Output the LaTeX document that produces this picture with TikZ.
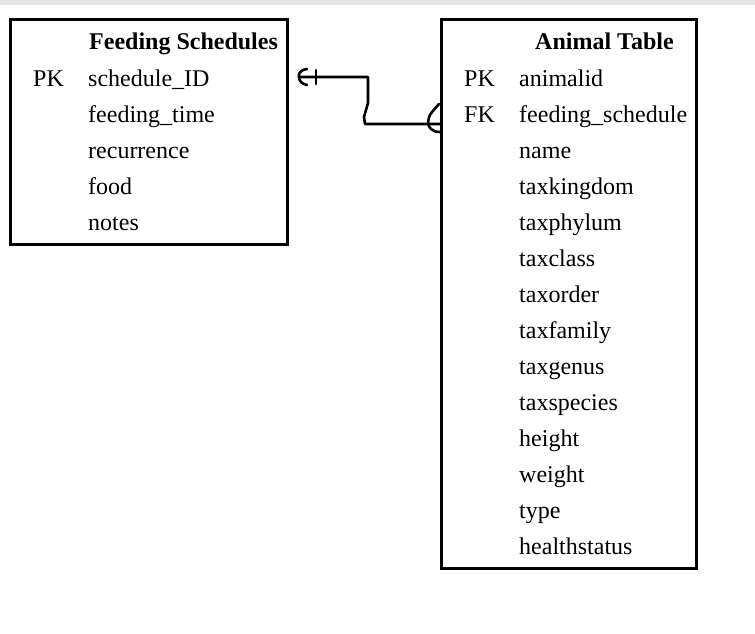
\documentclass[tikz,border=0pt]{standalone}
\usepackage{fontspec}
\setmainfont{Liberation Serif}
\begin{document}
\begin{tikzpicture}[x=1pt,y=-1pt,
  tbl/.style={draw=black,line width=3pt,rectangle,inner sep=0pt,outer sep=0pt,anchor=north west},
  txt/.style={anchor=base west,inner sep=0pt,font=\fontsize{24}{28}\selectfont},
  ttl/.style={txt,font=\fontsize{24}{28}\selectfont\bfseries},
  conn/.style={line width=2.6pt,line cap=round,line join=round}]
\useasboundingbox (0,0) rectangle (755,634);
\fill[fill={rgb,255:red,229;green,229;blue,229}] (0,0) rectangle (755,5);
% tables
\node[tbl,minimum width=277pt,minimum height=225pt] (fs) at (10.5,19.5) {};
\node[tbl,minimum width=255pt,minimum height=549pt] (an) at (441.5,19.5) {};
% Feeding Schedules
\node[ttl] (fsT) at (89,50) {Feeding Schedules};
\node[txt] (fsPK) at (33,86) {PK};
\node[txt] (fs1) at (88,86) {schedule\_ID};
\node[txt] (fs2) at (88,122) {feeding\_time};
\node[txt] (fs3) at (88,158) {recurrence};
\node[txt] (fs4) at (88,194) {food};
\node[txt] (fs5) at (88,230) {notes};
% Animal Table
\node[ttl] (anT) at (535,50) {Animal Table};
\node[txt] (anPK) at (464,86) {PK};
\node[txt] (anFK) at (464,122) {FK};
\foreach \t [count=\i from 0] in {animalid,feeding\_schedule,name,taxkingdom,taxphylum,taxclass,taxorder,taxfamily,taxgenus,taxspecies,height,weight,type,healthstatus}{
  \node[txt] (an\i) at (519,86+36*\i) {\t};
}
% connector
\coordinate (c0) at (299,77);
\coordinate (c1) at (368,77);
\coordinate (c2) at (368,103);
\coordinate (c3) at (364,117);
\coordinate (c4) at (365,124);
\coordinate (c5) at (an.west |- 0,124);
\draw[conn] (c0) -- (c1) -- (c2) -- (c3) -- (c4) -- (c5);
% one mark
\draw[conn] (316,70) -- (316,84);
\draw[conn] (307,69) .. controls (300,70) and (298,74) .. (299,77) .. controls (299,81) and (302,84) .. (307,85);
% many mark
\draw[conn] (439,104) -- (432,112) .. controls (427,118) and (427,126) .. (431,129) .. controls (433,131) and (436,132) .. (440,132);
\end{tikzpicture}
\end{document}
